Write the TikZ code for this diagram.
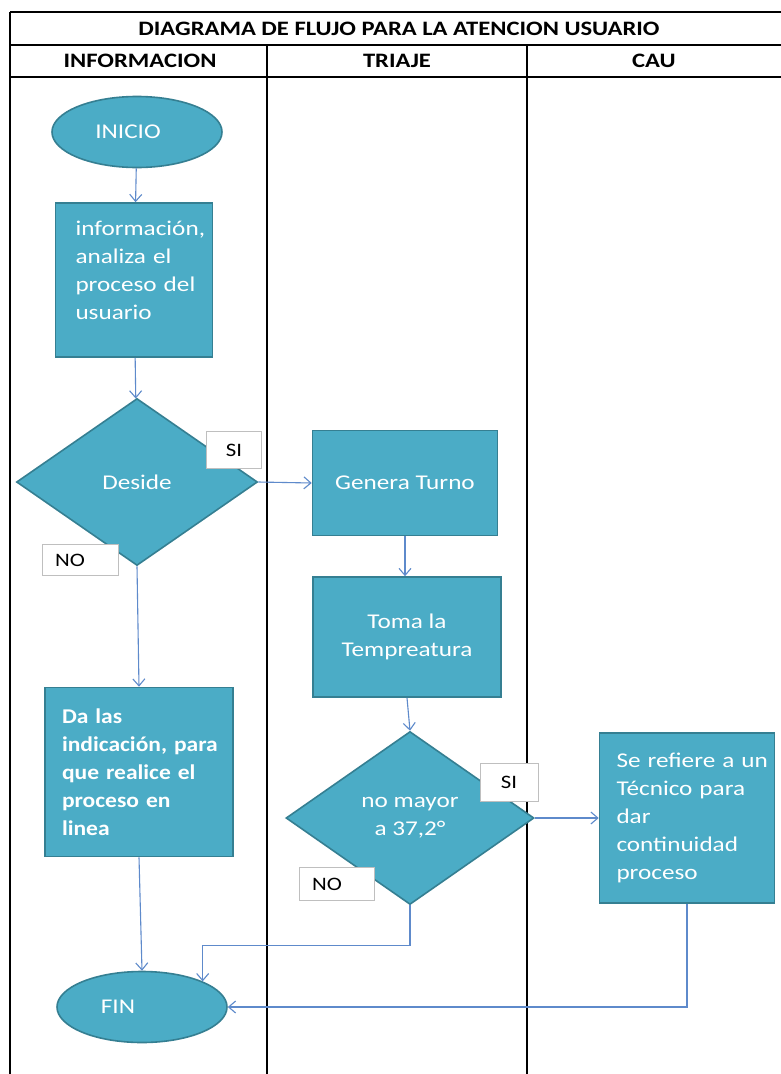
\documentclass[tikz,border=0pt]{standalone}
\usepackage{fontspec}
\setmainfont{Carlito}[FakeStretch=1.2]
\newfontfamily\dalasfont{Carlito}[FakeStretch=1.12]
\usetikzlibrary{shapes.geometric,arrows.meta}
\definecolor{aqua}{HTML}{4BACC6}
\definecolor{aquadark}{HTML}{357F92}
\definecolor{arrowblue}{HTML}{5E8ACB}
\definecolor{lblgray}{HTML}{BFBFBF}
\begin{document}
\begin{tikzpicture}[x=1pt,y=-1pt,
  shapefill/.style={fill=aqua,draw=aquadark,line width=1.6pt,text=white,font=\fontsize{21}{28}\selectfont,inner sep=0pt},
  procbox/.style={shapefill,rectangle},
  termin/.style={shapefill,ellipse},
  decide/.style={shapefill,diamond},
  lblbox/.style={fill=white,draw=lblgray,line width=1pt,font=\fontsize{19}{22}\selectfont,text=black,inner sep=0pt},
  arr/.style={draw=arrowblue,line width=1.1pt,-{Straight Barb[length=7pt,width=12pt]}},
  tbl/.style={line width=2.6pt,black},
  hdr/.style={font=\bfseries\fontsize{20.5}{24}\selectfont,text=black,inner sep=0pt}]
\useasboundingbox (0,0) rectangle (780,1074);
\fill[white] (0,0) rectangle (780,1074);
% table
\draw[tbl] (10,12) -- (782,12);
\draw[tbl] (10,45) -- (782,45);
\draw[tbl] (10,77) -- (782,77);
\draw[tbl] (10,12) -- (10,1080);
\draw[tbl] (267,45) -- (267,1080);
\draw[tbl] (527,45) -- (527,1080);
\node[hdr] (title) at (399,29) {DIAGRAMA DE FLUJO PARA LA ATENCION USUARIO};
\node[hdr] (h1) at (140,61) {INFORMACION};
\node[hdr] (h2) at (397,61) {TRIAJE};
\node[hdr] (h3) at (654,61) {CAU};
% shapes
\node[termin,minimum width=170pt,minimum height=71pt] (inicio) at (137,132) {INICIO\hspace*{18pt}};
\node[procbox,minimum width=157pt,minimum height=154pt,text width=117pt,align=left] (info) at (134,280)
  {\mbox{información,}\\\mbox{analiza el}\\\mbox{proceso del}\\\mbox{usuario}\\[-8pt]\mbox{}};
\node[decide,minimum width=241pt,minimum height=167pt] (deside) at (137,482) {Deside};
\node[procbox,minimum width=185pt,minimum height=105pt] (genera) at (405,483) {Genera Turno};
\node[procbox,minimum width=188pt,minimum height=120pt,align=center] (toma) at (407,637) {Toma la\\Tempreatura};
\node[decide,minimum width=248pt,minimum height=173pt,align=center] (mayor) at (410,818) {no mayor\\a 37,2°};
\node[procbox,minimum width=175pt,minimum height=170pt,text width=141pt,align=left] (refiere) at (687,818)
  {\mbox{Se refiere a un}\\\mbox{Técnico para}\\dar\\\mbox{continuidad}\\proceso};
\node[procbox,minimum width=188pt,minimum height=169pt,text width=154pt,align=left,font=\dalasfont\bfseries\fontsize{21}{28}\selectfont] (dalas) at (139,772)
  {Da las\\\mbox{indicación, para}\\\mbox{que realice el}\\\mbox{proceso en}\\linea};
\node[termin,minimum width=170pt,minimum height=71pt] (fin) at (142,1007) {FIN\hspace*{48pt}};
% connectors
\draw[arr] (inicio) -- (info);
\draw[arr] (info) -- (deside);
\draw[arr] (deside.east) -- (genera.west);
\draw[arr] (genera.south) -- (genera.south |- toma.north);
\draw[arr] (toma.south) -- (mayor.north);
\draw[arr] (mayor.east) -- (refiere.west);
\draw[arr] (deside.south) -- (dalas.north);
\draw[arr] (dalas.south) -- (fin.north);
\draw[arr] (mayor.south) -- ++(0,40) -| (fin.north east);
\draw[arr] (refiere.south) |- (fin.east);
% yes/no labels
\node[lblbox,minimum width=55pt,minimum height=37pt] (si1) at (234,450) {SI};
\node[lblbox,minimum width=76pt,minimum height=31pt] (no1) at (80,560) {NO\hspace*{20pt}};
\node[lblbox,minimum width=58pt,minimum height=38pt] (si2) at (509,782) {SI};
\node[lblbox,minimum width=75pt,minimum height=33pt] (no2) at (337,884) {NO\hspace*{20pt}};
\end{tikzpicture}
\end{document}
